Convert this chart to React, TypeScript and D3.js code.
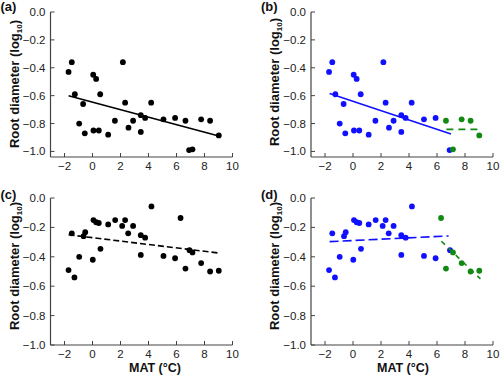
import React from "react";
import * as d3 from "d3";

// Panels (a)/(b): MAT vs root diameter
const matAB = [-1.71, -1.48, -1.26, -0.67, -0.95, -0.55, 0.05, 0.26, 0.55, 0.07, 0.45, 1.12, 1.6, 2.17, 2.33, 2.57, 2.9, 3.45, 3.45, 3.76, 4.19, 5.07, 5.9, 6.64, 6.9, 7.14, 7.76, 8.4, 9.02];
const diamAB = [-0.43, -0.36, -0.59, -0.66, -0.8, -0.87, -0.45, -0.48, -0.59, -0.85, -0.85, -0.88, -0.78, -0.36, -0.65, -0.83, -0.78, -0.74, -0.86, -0.76, -0.65, -0.77, -0.76, -0.78, -0.99, -0.985, -0.77, -0.78, -0.885];
const groupB = ["b", "b", "b", "b", "b", "b", "b", "b", "b", "b", "b", "b", "b", "b", "b", "b", "b", "b", "b", "b", "b", "b", "b", "g", "b", "g", "g", "g", "g"];

// Panels (c)/(d)
const matCD = [-1.71, -1.48, -1.29, -0.95, -0.64, -0.52, 0.02, 0.07, 0.26, 0.45, 0.57, 1.12, 1.62, 2.12, 2.33, 2.55, 2.9, 3.45, 3.45, 3.76, 4.21, 5.07, 5.9, 6.29, 6.64, 6.93, 7.14, 7.76, 8.4, 9.02];
const diamCD = [-0.49, -0.24, -0.54, -0.4, -0.26, -0.233, -0.42, -0.15, -0.165, -0.17, -0.346, -0.18, -0.15, -0.19, -0.15, -0.24, -0.19, -0.253, -0.387, -0.27, -0.057, -0.394, -0.41, -0.136, -0.48, -0.355, -0.37, -0.443, -0.5, -0.495];
const groupD = ["b", "b", "b", "b", "b", "b", "b", "b", "b", "b", "b", "b", "b", "b", "b", "b", "b", "b", "b", "b", "b", "b", "b", "g", "g", "b", "g", "g", "g", "g"];

// Fit lines: [x0, y0, x1, y1]
const lineA = [-1.71, -0.6, 9.02, -0.89];
const lineBBlue = [-1.67, -0.585, 7.0, -0.875];
const lineBGreen = [6.67, -0.842, 9.1, -0.842];
const lineC = [-1.71, -0.25, 9.07, -0.375];
const lineDBlue = [-1.67, -0.297, 6.83, -0.258];
const lineDGreen = [6.31, -0.294, 9.1, -0.55];

const xTicks = [-2, 0, 2, 4, 6, 8, 10];
const yTicks = [0, -0.2, -0.4, -0.6, -0.8, -1.0];

const BLUE = "#1010ff";
const GREEN = "#128a12";
const FONT = "Arial, 'Liberation Sans', Helvetica, sans-serif";

type Seg = { l: number[]; color: string; dash?: string };

function Panel(props: {
  x0: number; top: number; bottom: number; yMin: number; label: string;
  labelY: number; titleY: number; xs: number[]; ys: number[]; colors: string[];
  segs: Seg[]; showX: boolean; matX: number;
}) {
  const { x0, top, bottom, yMin, label, labelY, titleY, xs, ys, colors, segs, showX, matX } = props;
  const x = d3.scaleLinear().domain([-3, 10]).range([x0, x0 + 182]);
  const y = d3.scaleLinear().domain([yMin, 0]).range([bottom, top]);
  const fmtY = d3.format(".1f");
  const fmtX = d3.format("d");
  const axisColor = "#444";
  return (
    <g>
      <text x={x0 - 50} y={labelY} fontFamily={FONT} fontWeight="bold" fontSize={13} fill="#111">{label}</text>
      <text transform={`translate(${x0 - 32},${titleY}) rotate(-90)`} textAnchor="middle" fontFamily={FONT} fontWeight="bold" fontSize={13} fill="#111">
        Root diameter (log<tspan fontSize={8} dy={3}>10</tspan><tspan dy={-3}>)</tspan>
      </text>
      {/* axes */}
      <line x1={x0} x2={x0} y1={y(0)} y2={bottom} stroke={axisColor} strokeWidth={1.2} />
      <line x1={x0} x2={x(10)} y1={bottom} y2={bottom} stroke={axisColor} strokeWidth={1.2} />
      {yTicks.map((t) => (
        <g key={"y" + t}>
          <line x1={x0} x2={x0 + 4} y1={y(t)} y2={y(t)} stroke={axisColor} strokeWidth={1} />
          <text x={x0 - 5} y={y(t) + 4} textAnchor="end" fontFamily={FONT} fontSize={11.5} fill="#222">{fmtY(t)}</text>
        </g>
      ))}
      {xTicks.map((t) => (
        <g key={"x" + t}>
          <line x1={x(t)} x2={x(t)} y1={bottom} y2={bottom - 4} stroke={axisColor} strokeWidth={1} />
          <text x={x(t)} y={bottom + 12.5} textAnchor="middle" fontFamily={FONT} fontSize={11.5} fill="#222">{fmtX(t)}</text>
        </g>
      ))}
      {showX && (
        <text x={matX} y={bottom + 26.5} textAnchor="middle" fontFamily={FONT} fontWeight="bold" fontSize={12.5} fill="#111">MAT (°C)</text>
      )}
      {xs.map((v, i) => (
        <circle key={i} cx={x(v)} cy={y(ys[i])} r={2.9} fill={colors[i]} />
      ))}
      {segs.map((s, i) => (
        <line key={"s" + i} x1={x(s.l[0])} y1={y(s.l[1])} x2={x(s.l[2])} y2={y(s.l[3])} stroke={s.color} strokeWidth={1.6} strokeDasharray={s.dash} />
      ))}
    </g>
  );
}

export default function App() {
  const black = matAB.map(() => "#000");
  const colB = groupB.map((g) => (g === "b" ? BLUE : GREEN));
  const blackC = matCD.map(() => "#000");
  const colD = groupD.map((g) => (g === "b" ? BLUE : GREEN));
  return (
    <svg width={500} height={379} style={{ position: "absolute", left: 0, top: 0, background: "#fff" }}>
      <rect width={500} height={379} fill="#fff" />
      <Panel x0={50.5} top={12} bottom={157} yMin={-1.04} label="(a)" labelY={11} titleY={84}
        xs={matAB} ys={diamAB} colors={black} segs={[{ l: lineA, color: "#000" }]} showX={false} matX={155} />
      <Panel x0={311} top={12} bottom={157} yMin={-1.04} label="(b)" labelY={11} titleY={82}
        xs={matAB} ys={diamAB} colors={colB}
        segs={[{ l: lineBBlue, color: BLUE }, { l: lineBGreen, color: GREEN, dash: "7,5" }]} showX={false} matX={403} />
      <Panel x0={50.5} top={198} bottom={345} yMin={-1} label="(c)" labelY={199} titleY={266}
        xs={matCD} ys={diamCD} colors={blackC} segs={[{ l: lineC, color: "#000", dash: "6,3" }]} showX={true} matX={155} />
      <Panel x0={311} top={198} bottom={345} yMin={-1} label="(d)" labelY={199} titleY={266}
        xs={matCD} ys={diamCD} colors={colD}
        segs={[{ l: lineDBlue, color: BLUE, dash: "9,4" }, { l: lineDGreen, color: GREEN, dash: "5,5" }]} showX={true} matX={403} />
    </svg>
  );
}
